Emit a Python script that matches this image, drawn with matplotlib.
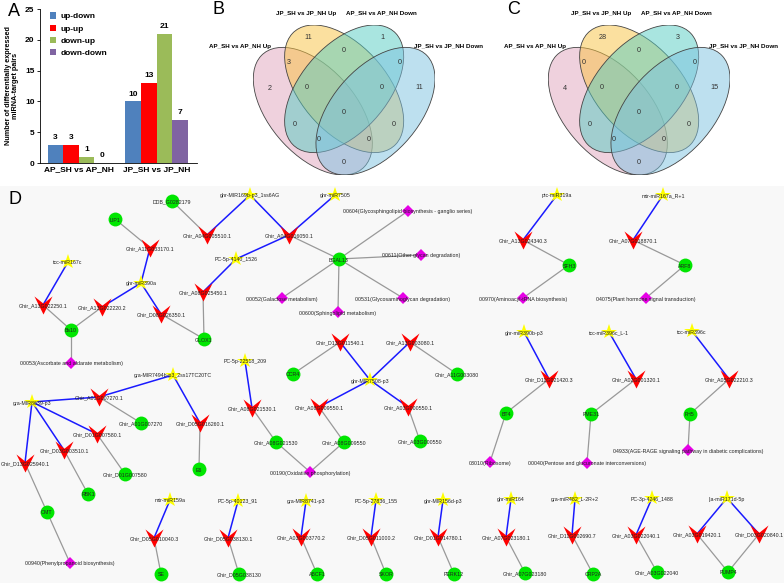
import matplotlib
matplotlib.use('Agg')
import matplotlib.pyplot as plt
from matplotlib.patches import Ellipse
from matplotlib.path import Path
import numpy as np

plt.rcParams['font.family'] = ['Liberation Sans', 'DejaVu Sans']

# ---------------- data: panel A ----------------
groups = ['AP_SH vs AP_NH', 'JP_SH vs JP_NH']
series = ['up-down', 'up-up', 'down-up', 'down-down']
counts = {
    'up-down': [3, 10],
    'up-up': [3, 13],
    'down-up': [1, 21],
    'down-down': [0, 7],
}
bar_colors = ['#4F81BD', '#FF0000', '#9BBB59', '#8064A2']

# ---------------- data: panels B / C (venn) ----------------
set_names = ['AP_SH vs AP_NH Up', 'JP_SH vs JP_NH Up',
             'AP_SH vs AP_NH Down', 'JP_SH vs JP_NH Down']
# region order: Yo, To, PY, YT, TB, Po, PYT, YTB, Bo, all, PT, YB, PTB, PYB, PB
venn_b = [11, 1, 3, 0, 0, 2, 0, 0, 11, 0, 0, 0, 0, 0, 0]
venn_c = [28, 3, 0, 0, 0, 4, 0, 0, 15, 0, 0, 0, 0, 0, 0]

# ---------------- data: panel D (network) ----------------
mirnas = ['ghr-MIR169b-p3_1ss6AG', 'ghr-miR7505', 'PC-5p-4140_1526', 'tcc-miR167c',
          'ghr-miR390a', 'PC-5p-22518_209', 'gra-MIR7494b-p3_2ss17TC20TC',
          'gra-MIR8639-p3', 'ghr-MIR7508-p3', 'ptc-miR319a', 'mtr-miR167a_R+1',
          'ghr-miR390b-p3', 'tcc-miR396c_L-1', 'tcc-miR396c', 'mtr-miR159a',
          'PC-5p-40123_91', 'gra-MIR8741-p3', 'PC-5p-27836_155', 'ghr-MIR156d-p3',
          'ghr-miR164', 'gra-miR482_L-2R+2', 'PC-3p-4246_1488', 'lja-miR171d-5p']

mirna_target = [
    ('ghr-MIR169b-p3_1ss6AG', 'Ghir_A04G005510.1'),
    ('ghr-MIR169b-p3_1ss6AG', 'Ghir_A04G016050.1'),
    ('ghr-miR7505', 'Ghir_A04G016050.1'),
    ('PC-5p-4140_1526', 'Ghir_A04G016050.1'),
    ('PC-5p-4140_1526', 'Ghir_A08G025450.1'),
    ('tcc-miR167c', 'Ghir_A13G022250.1'),
    ('ghr-miR390a', 'Ghir_A11G033170.1'),
    ('ghr-miR390a', 'Ghir_A13G022220.2'),
    ('ghr-miR390a', 'Ghir_D08G026350.1'),
    ('PC-5p-22518_209', 'Ghir_A08G021530.1'),
    ('gra-MIR7494b-p3_2ss17TC20TC', 'Ghir_A01G007270.1'),
    ('gra-MIR7494b-p3_2ss17TC20TC', 'Ghir_D05G016260.1'),
    ('gra-MIR8639-p3', 'Ghir_A01G007270.1'),
    ('gra-MIR8639-p3', 'Ghir_D01G007580.1'),
    ('gra-MIR8639-p3', 'Ghir_D03G003510.1'),
    ('gra-MIR8639-p3', 'Ghir_D13G025940.1'),
    ('ghr-MIR7508-p3', 'Ghir_D13G011540.1'),
    ('ghr-MIR7508-p3', 'Ghir_A13G003080.1'),
    ('ghr-MIR7508-p3', 'Ghir_A08G009550.1'),
    ('ghr-MIR7508-p3', 'Ghir_A03G000550.1'),
    ('ptc-miR319a', 'Ghir_A13G024340.3'),
    ('mtr-miR167a_R+1', 'Ghir_A07G018870.1'),
    ('ghr-miR390b-p3', 'Ghir_D11G021420.3'),
    ('tcc-miR396c_L-1', 'Ghir_A02G001320.1'),
    ('tcc-miR396c', 'Ghir_A05G022210.3'),
    ('mtr-miR159a', 'Ghir_D05G010040.3'),
    ('PC-5p-40123_91', 'Ghir_D05G038130.1'),
    ('gra-MIR8741-p3', 'Ghir_A03G003770.2'),
    ('PC-5p-27836_155', 'Ghir_D05G011000.2'),
    ('ghr-MIR156d-p3', 'Ghir_D01G014780.1'),
    ('ghr-miR164', 'Ghir_A07G023180.1'),
    ('gra-miR482_L-2R+2', 'Ghir_D11G002690.7'),
    ('PC-3p-4246_1488', 'Ghir_A03G022040.1'),
    ('lja-miR171d-5p', 'Ghir_A03G019420.1'),
    ('lja-miR171d-5p', 'Ghir_D03G020840.1'),
]

target_gene = [
    ('Ghir_A04G005510.1', 'DDB_G0282179'), ('Ghir_A11G033170.1', 'LIP1'),
    ('Ghir_A04G016050.1', 'BGAL13'), ('Ghir_A13G022250.1', 'Bs10'),
    ('Ghir_A13G022220.2', 'Bs10'), ('Ghir_D08G026350.1', 'GLOX1'),
    ('Ghir_A08G025450.1', 'GLOX1'), ('Ghir_A01G007270.1', 'Ghir_A01G007270'),
    ('Ghir_D05G016260.1', 'E6'), ('Ghir_D01G007580.1', 'Ghir_D01G007580'),
    ('Ghir_D03G003510.1', 'RBK1'), ('Ghir_D13G025940.1', 'OMT'),
    ('Ghir_A08G021530.1', 'Ghir_A08G021530'), ('Ghir_A08G009550.1', 'Ghir_A08G009550'),
    ('Ghir_A03G000550.1', 'Ghir_A03G000550'), ('Ghir_D13G011540.1', 'CCR4'),
    ('Ghir_A13G003080.1', 'Ghir_A11G003080'), ('Ghir_A13G024340.3', 'SFH3'),
    ('Ghir_A07G018870.1', 'ARF8'), ('Ghir_D11G021420.3', 'BT4'),
    ('Ghir_A02G001320.1', 'PME31'), ('Ghir_A05G022210.3', 'FH5'),
    ('Ghir_D05G010040.3', 'SE'), ('Ghir_D05G038130.1', 'Ghir_D05G038130'),
    ('Ghir_A03G003770.2', 'ABCF1'), ('Ghir_D05G011000.2', 'SKOR'),
    ('Ghir_D01G014780.1', 'PERK12'), ('Ghir_A07G023180.1', 'Ghir_A07G023180'),
    ('Ghir_D11G002690.7', 'CRP2A'), ('Ghir_A03G022040.1', 'Ghir_A03G022040'),
    ('Ghir_A03G019420.1', 'PUMP4'), ('Ghir_D03G020840.1', 'PUMP4'),
]

gene_pathway = [
    ('BGAL13', '00604(Glycosphingolipid biosynthesis - ganglio series)'),
    ('BGAL13', '00611(Other glycan degradation)'),
    ('BGAL13', '00052(Galactose metabolism)'),
    ('BGAL13', '00531(Glycosaminoglycan degradation)'),
    ('BGAL13', '00600(Sphingolipid metabolism)'),
    ('Bs10', '00053(Ascorbate and aldarate metabolism)'),
    ('OMT', '00940(Phenylpropanoid biosynthesis)'),
    ('Ghir_A08G021530', '00190(Oxidative phosphorylation)'),
    ('Ghir_A08G009550', '00190(Oxidative phosphorylation)'),
    ('SFH3', '00970(Aminoacyl-tRNA biosynthesis)'),
    ('ARF8', '04075(Plant hormone signal transduction)'),
    ('BT4', '03010(Ribosome)'),
    ('PME31', '00040(Pentose and glucuronate interconversions)'),
    ('FH5', '04933(AGE-RAGE signaling pathway in diabetic complications)'),
]

# network layout (pixel-like coordinates of panel D)
pos = {
    'ghr-MIR169b-p3_1ss6AG': (250, 195), 'ghr-miR7505': (335, 195),
    'PC-5p-4140_1526': (236, 259), 'tcc-miR167c': (68, 262), 'ghr-miR390a': (141, 283),
    'PC-5p-22518_209': (245, 361), 'gra-MIR7494b-p3_2ss17TC20TC': (173, 375),
    'gra-MIR8639-p3': (32, 402), 'ghr-MIR7508-p3': (370, 380),
    'ptc-miR319a': (557, 195), 'mtr-miR167a_R+1': (663, 195),
    'ghr-miR390b-p3': (524, 332), 'tcc-miR396c_L-1': (609, 332), 'tcc-miR396c': (692, 331),
    'mtr-miR159a': (170, 500), 'PC-5p-40123_91': (238, 501), 'gra-MIR8741-p3': (306, 501),
    'PC-5p-27836_155': (376, 500), 'ghr-MIR156d-p3': (443, 500), 'ghr-miR164': (511, 499),
    'gra-miR482_L-2R+2': (575, 499), 'PC-3p-4246_1488': (652, 498), 'lja-miR171d-5p': (727, 498),

    'Ghir_A04G005510.1': (207, 235), 'Ghir_A04G016050.1': (289, 235),
    'Ghir_A11G033170.1': (150, 248), 'Ghir_A13G022250.1': (43, 305),
    'Ghir_A13G022220.2': (102, 307), 'Ghir_D08G026350.1': (161, 314),
    'Ghir_A08G025450.1': (203, 292), 'Ghir_A01G007270.1': (99, 397),
    'Ghir_D05G016260.1': (200, 423), 'Ghir_A08G021530.1': (252, 408),
    'Ghir_D01G007580.1': (97, 434), 'Ghir_D03G003510.1': (64, 450),
    'Ghir_D13G025940.1': (25, 463), 'Ghir_D13G011540.1': (340, 342),
    'Ghir_A13G003080.1': (410, 342), 'Ghir_A08G009550.1': (319, 407),
    'Ghir_A03G000550.1': (408, 407), 'Ghir_A13G024340.3': (523, 240),
    'Ghir_A07G018870.1': (633, 240), 'Ghir_D11G021420.3': (549, 379),
    'Ghir_A02G001320.1': (636, 379), 'Ghir_A05G022210.3': (729, 379),
    'Ghir_D05G010040.3': (154, 538), 'Ghir_D05G038130.1': (228, 538),
    'Ghir_A03G003770.2': (301, 537), 'Ghir_D05G011000.2': (371, 537),
    'Ghir_D01G014780.1': (438, 537), 'Ghir_A07G023180.1': (506, 537),
    'Ghir_D11G002690.7': (572, 535), 'Ghir_A03G022040.1': (636, 535),
    'Ghir_A03G019420.1': (697, 534), 'Ghir_D03G020840.1': (759, 534),

    'DDB_G0282179': (172, 201), 'LIP1': (115, 219), 'BGAL13': (339, 259),
    'Bs10': (71, 330), 'GLOX1': (204, 339), 'Ghir_A01G007270': (141, 423),
    'E6': (199, 469), 'Ghir_D01G007580': (125, 474), 'RBK1': (88, 494),
    'OMT': (47, 512), 'CCR4': (293, 374), 'Ghir_A11G003080': (457, 374),
    'Ghir_A08G021530': (276, 442), 'Ghir_A08G009550': (344, 442),
    'Ghir_A03G000550': (420, 441), 'SFH3': (569, 265), 'ARF8': (685, 265),
    'BT4': (506, 413), 'PME31': (591, 414), 'FH5': (690, 414), 'SE': (161, 574),
    'Ghir_D05G038130': (239, 574), 'ABCF1': (317, 574), 'SKOR': (386, 574),
    'PERK12': (454, 574), 'Ghir_A07G023180': (525, 573), 'CRP2A': (593, 574),
    'Ghir_A03G022040': (657, 572), 'PUMP4': (728, 572),

    '00604(Glycosphingolipid biosynthesis - ganglio series)': (408, 211),
    '00611(Other glycan degradation)': (421, 255),
    '00052(Galactose metabolism)': (282, 298),
    '00531(Glycosaminoglycan degradation)': (403, 298),
    '00600(Sphingolipid metabolism)': (338, 312),
    '00053(Ascorbate and aldarate metabolism)': (71, 363),
    '00940(Phenylpropanoid biosynthesis)': (70, 563),
    '00190(Oxidative phosphorylation)': (310, 472),
    '03010(Ribosome)': (490, 462),
    '00970(Aminoacyl-tRNA biosynthesis)': (523, 298),
    '04075(Plant hormone signal transduction)': (646, 298),
    '00040(Pentose and glucuronate interconversions)': (587, 463),
    '04933(AGE-RAGE signaling pathway in diabetic complications)': (688, 450),
}

W, H = 784, 583
fig = plt.figure(figsize=(W / 100, H / 100), dpi=100)


def px_axes(x0, y0, x1, y1):
    return fig.add_axes([x0 / W, 1 - y1 / H, (x1 - x0) / W, (y1 - y0) / H])


# ================= Panel D =================
axd = px_axes(0, 186, 784, 583)
axd.set_facecolor('#f8f8f8')
axd.set_xlim(0, 784)
axd.set_ylim(583, 186)
axd.set_xticks([])
axd.set_yticks([])
for s in axd.spines.values():
    s.set_visible(False)

for a, b in target_gene + gene_pathway:
    (x1, y1), (x2, y2) = pos[a], pos[b]
    axd.plot([x1, x2], [y1, y2], color='#999999', lw=0.9, zorder=1)
for a, b in mirna_target:
    (x1, y1), (x2, y2) = pos[a], pos[b]
    axd.plot([x1, x2], [y1, y2], color='#1a1aff', lw=1.1, zorder=2)

vmark = Path([(-1, 1), (0, 0.2), (1, 1), (0, -1), (-1, 1)],
             [Path.MOVETO, Path.LINETO, Path.LINETO, Path.LINETO, Path.CLOSEPOLY])

targets = sorted({t for _, t in mirna_target})
genes = sorted({g for _, g in target_gene})
pathways = sorted({p for _, p in gene_pathway})


def draw_nodes(names, marker, color, ms):
    xs = [pos[n][0] for n in names]
    ys = [pos[n][1] for n in names]
    axd.plot(xs, ys, ls='none', marker=marker, color=color, ms=ms, mew=0, zorder=3)


draw_nodes(targets, vmark, '#ff0000', 13)
draw_nodes(genes, 'o', '#00e600', 10)
draw_nodes(pathways, 'D', '#e600e6', 6.5)
draw_nodes(mirnas, '*', '#ffff00', 11.5)

for n in mirnas + targets + genes + pathways:
    axd.text(pos[n][0], pos[n][1] + 1, n, ha='center', va='center',
             fontsize=3.8, color='#222222', zorder=5)

fig.text(8 / W, 1 - 200 / H, 'D', fontsize=13, ha='left', va='center')

# ================= Panel A =================
axa = px_axes(40, 9, 197, 163)
x = np.arange(len(groups))
bw = 0.2
for i, s in enumerate(series):
    xs = x + (i - 1.5) * bw
    axa.bar(xs, counts[s], width=bw, color=bar_colors[i], label=s)
    for xi, v in zip(xs, counts[s]):
        axa.text(xi, v + 0.6, str(v), ha='center', va='bottom',
                 fontsize=6, fontweight='bold')
axa.set_xlim(-0.5, 1.52)
axa.set_ylim(0, 25)
axa.set_yticks([0, 5, 10, 15, 20, 25])
axa.set_xticks(x)
axa.set_xticklabels(groups)
axa.tick_params(labelsize=6, length=2, width=0.6, pad=2)
axa.tick_params(axis='x', length=0)
for lab in axa.get_xticklabels() + axa.get_yticklabels():
    lab.set_fontweight('bold')
axa.spines['top'].set_visible(False)
axa.spines['right'].set_visible(False)
axa.spines['left'].set_linewidth(0.6)
axa.spines['bottom'].set_linewidth(0.6)
axa.set_ylabel('Number of differentially expressed\nmiRNA-target pairs',
               fontsize=5.2, fontweight='bold', labelpad=4, linespacing=1.1)
axa.legend(loc='upper left', bbox_to_anchor=(0.04, 1.0), frameon=False,
           handlelength=0.8, handleheight=0.8, handletextpad=0.5,
           labelspacing=0.5, borderaxespad=0,
           prop={'weight': 'bold', 'size': 6})
fig.text(8 / W, 1 - 12 / H, 'A', fontsize=13, ha='left', va='center')

# ================= Panels B and C =================
ell_specs = [((0.35, 0.47), -45, '#E1A5BD'),
             ((0.50, 0.57), -45, '#F9C341'),
             ((0.50, 0.57), 45, '#55CDC3'),
             ((0.65, 0.47), 45, '#7DC3E1')]
region_xy = [(0.328, 0.798), (0.684, 0.798), (0.236, 0.688), (0.500, 0.740),
             (0.766, 0.688), (0.145, 0.572), (0.323, 0.575), (0.679, 0.575),
             (0.862, 0.575), (0.500, 0.463), (0.264, 0.409), (0.739, 0.409),
             (0.380, 0.345), (0.618, 0.345), (0.500, 0.240)]
name_xy = [(0.001, 0.761), (0.320, 0.907), (0.679, 0.907), (1.000, 0.761)]


def venn(x0, values, letter):
    ax = px_axes(x0, 25, x0 + 181.7, 175)
    ax.set_xlim(0.065, 0.935)
    ax.set_ylim(0.185, 0.855)
    ax.axis('off')
    for (c, ang, col) in ell_specs:
        ax.add_patch(Ellipse(c, 0.70, 0.40, angle=ang, facecolor=col,
                             alpha=0.5, edgecolor='none'))
        ax.add_patch(Ellipse(c, 0.70, 0.40, angle=ang, facecolor='none',
                             edgecolor='#444444', lw=0.6))
    for (rx, ry), v in zip(region_xy, values):
        ax.text(rx, ry, str(v), ha='center', va='center', fontsize=5.2, color='#333333')
    for (nx, ny), nm in zip(name_xy, set_names):
        ax.text(nx, ny, nm, ha='center', va='center', fontsize=4.5,
                fontweight='bold', clip_on=False)
    fig.text((x0 - 41) / W, 1 - 9 / H, letter, fontsize=13, ha='left', va='center')


venn(253.3, venn_b, 'B')
venn(548.3, venn_c, 'C')

fig.savefig('out.png', dpi=100)
